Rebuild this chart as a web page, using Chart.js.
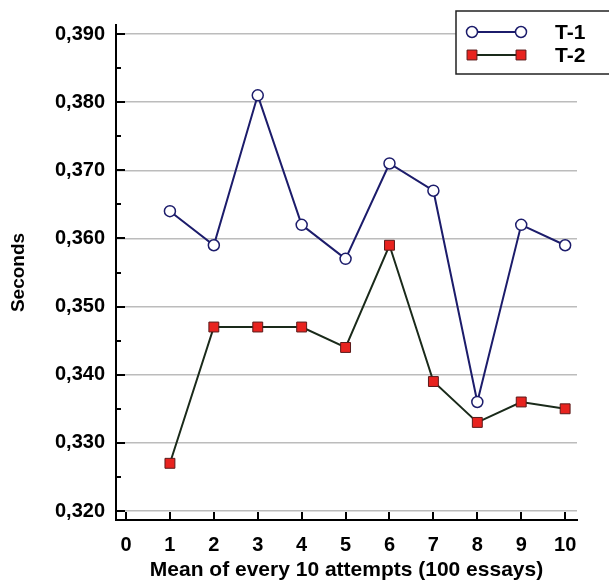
<!DOCTYPE html>
<html>
<head>
<meta charset="utf-8">
<script src="https://cdn.jsdelivr.net/npm/chart.js@4"></script>
<style>
  html, body { margin: 0; padding: 0; background: #fff; }
  #wrap { width: 609px; height: 583px; position: relative; }
</style>
</head>
<body>
<div id="wrap"><canvas id="chart"></canvas></div>
<script>
// data
const attempts = [1, 2, 3, 4, 5, 6, 7, 8, 9, 10];
const t1 = [0.364, 0.359, 0.381, 0.362, 0.357, 0.371, 0.367, 0.336, 0.362, 0.359];
const t2 = [0.327, 0.347, 0.347, 0.347, 0.344, 0.359, 0.339, 0.333, 0.336, 0.335];
const xTicks = [0, 1, 2, 3, 4, 5, 6, 7, 8, 9, 10];
const yTicks = [0.320, 0.330, 0.340, 0.350, 0.360, 0.370, 0.380, 0.390];

const FONT = "'Liberation Sans', Arial, sans-serif";
const T1_COLOR = '#1c1c6b';
const T2_LINE = '#1a2a1a';
const T2_FILL = '#e8231f';

const isMajor = v => yTicks.some(t => Math.abs(t - v) < 1e-7);

// axis ticks point inward, plus the boxed legend
const decorPlugin = {
    id: 'decor',
    afterDraw(chart) {
        const {ctx, chartArea, scales: {x, y}} = chart;
        ctx.save();
        ctx.strokeStyle = '#000';
        ctx.lineWidth = 2;
        ctx.beginPath();
        y.ticks.forEach(t => {
            const py = Math.round(y.getPixelForValue(t.value));
            const len = isMajor(t.value) ? 9 : 5;
            ctx.moveTo(chartArea.left, py);
            ctx.lineTo(chartArea.left + len, py);
        });
        xTicks.forEach(v => {
            const px = Math.round(x.getPixelForValue(v));
            ctx.moveTo(px, chartArea.bottom);
            ctx.lineTo(px, chartArea.bottom - 8);
        });
        ctx.stroke();

        // legend
        const bx = 456, by = 11, bw = 160, bh = 63;
        ctx.fillStyle = '#fff';
        ctx.fillRect(bx, by, bw, bh);
        ctx.lineWidth = 1.5;
        ctx.strokeStyle = '#222';
        ctx.strokeRect(bx, by, bw, bh);

        chart.data.datasets.forEach((ds, i) => {
            const ly = 32 + i * 23;
            ctx.strokeStyle = ds.borderColor;
            ctx.lineWidth = 2;
            ctx.beginPath();
            ctx.moveTo(472, ly);
            ctx.lineTo(521, ly);
            ctx.stroke();
            [472, 521].forEach(px => {
                ctx.fillStyle = ds.pointBackgroundColor;
                ctx.strokeStyle = ds.pointBorderColor;
                ctx.lineWidth = ds.pointBorderWidth;
                ctx.beginPath();
                if (ds.pointStyle === 'circle') {
                    ctx.arc(px, ly, ds.pointRadius, 0, Math.PI * 2);
                } else {
                    const s = ds.pointRadius * Math.SQRT1_2;
                    ctx.rect(px - s, ly - s, s * 2, s * 2);
                }
                ctx.fill();
                ctx.stroke();
            });
            ctx.fillStyle = '#000';
            ctx.font = 'bold 21px ' + FONT;
            ctx.textBaseline = 'middle';
            ctx.textAlign = 'left';
            ctx.fillText(ds.label, 555, ly + 1);
        });
        ctx.restore();
    }
};

new Chart(document.getElementById('chart'), {
    type: 'line',
    data: {
        datasets: [
            {
                label: 'T-1',
                data: attempts.map((a, i) => ({x: a, y: t1[i]})),
                borderColor: T1_COLOR,
                borderWidth: 2,
                pointStyle: 'circle',
                pointRadius: 5.5,
                pointBackgroundColor: '#fff',
                pointBorderColor: T1_COLOR,
                pointBorderWidth: 1.5,
                tension: 0
            },
            {
                label: 'T-2',
                data: attempts.map((a, i) => ({x: a, y: t2[i]})),
                borderColor: T2_LINE,
                borderWidth: 2,
                pointStyle: 'rect',
                pointRadius: 7,
                pointBackgroundColor: T2_FILL,
                pointBorderColor: '#5a1a1a',
                pointBorderWidth: 1,
                tension: 0
            }
        ]
    },
    options: {
        responsive: true,
        maintainAspectRatio: false,
        animation: false,
        layout: { padding: { top: 25, right: 32, left: 0, bottom: 0 } },
        plugins: {
            legend: { display: false },
            tooltip: { enabled: false }
        },
        scales: {
            x: {
                type: 'linear',
                min: -0.228,
                max: 10.27,
                afterBuildTicks: s => { s.ticks = xTicks.map(v => ({value: v})); },
                afterFit: s => { s.height = 63; },
                grid: { display: false, drawTicks: false },
                border: { display: true, color: '#000', width: 2 },
                ticks: {
                    color: '#000',
                    padding: 13,
                    font: { family: FONT, size: 20, weight: 'bold' }
                },
                title: {
                    display: true,
                    text: 'Mean of every 10 attempts (100 essays)',
                    color: '#000',
                    padding: { top: 1, bottom: 0 },
                    font: { family: FONT, size: 21, weight: 'bold' }
                }
            },
            y: {
                type: 'linear',
                min: 0.31868,
                max: 0.39132,
                afterBuildTicks: s => {
                    const t = [];
                    yTicks.forEach((v, i) => {
                        t.push({value: v});
                        if (i < yTicks.length - 1) t.push({value: (v + yTicks[i + 1]) / 2});
                    });
                    s.ticks = t;
                },
                afterFit: s => { s.width = 116; },
                grid: {
                    drawTicks: false,
                    color: c => isMajor(c.tick.value) ? '#bcbcbc' : 'rgba(0,0,0,0)',
                    lineWidth: 1.5
                },
                border: { display: true, color: '#000', width: 2 },
                ticks: {
                    color: '#000',
                    padding: 11,
                    font: { family: FONT, size: 20, weight: 'bold' },
                    callback: v => isMajor(v) ? v.toFixed(3).replace('.', ',') : ''
                },
                title: {
                    display: true,
                    text: 'Seconds',
                    color: '#000',
                    padding: { top: 7, bottom: 0 },
                    font: { family: FONT, size: 19, weight: 'bold' }
                }
            }
        }
    },
    plugins: [decorPlugin]
});
</script>
</body>
</html>
